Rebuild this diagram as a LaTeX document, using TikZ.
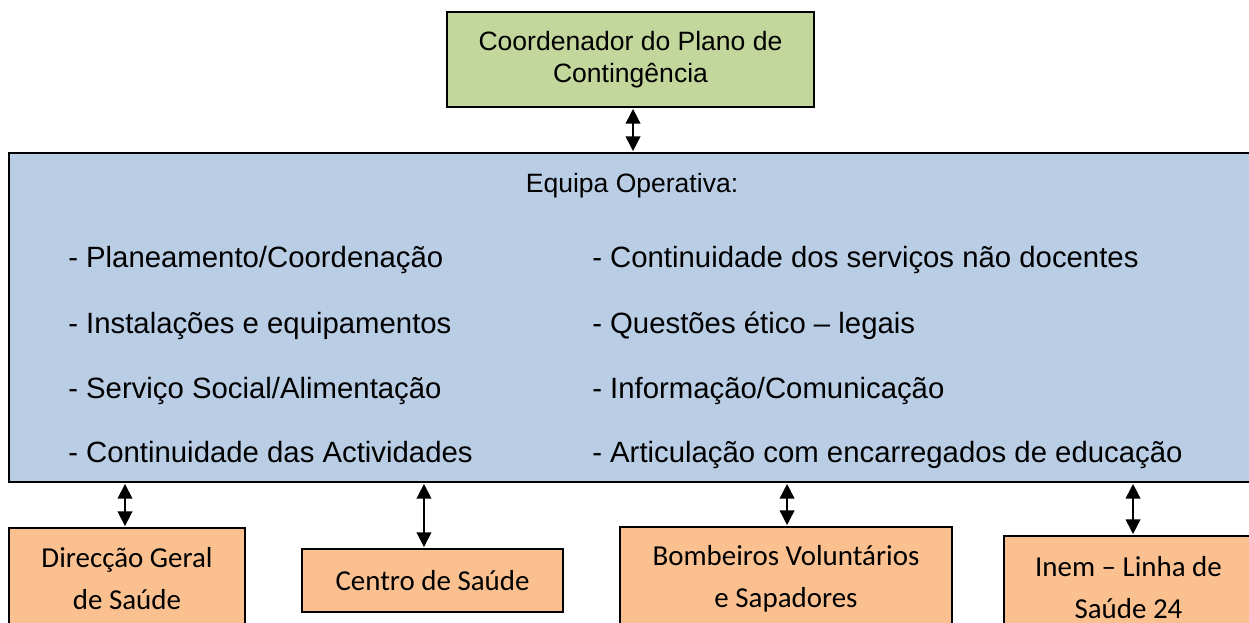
\documentclass[tikz,border=0pt]{standalone}
\usepackage{fontspec}
\setmainfont{Liberation Sans}
\newfontfamily\calib{Carlito}
\usetikzlibrary{arrows.meta}
\definecolor{boxgreen}{HTML}{C3D69B}
\definecolor{boxblue}{HTML}{B9CDE5}
\definecolor{boxorange}{HTML}{FAC090}
\tikzset{
  boxbase/.style={draw=black, line width=1.7pt, inner sep=0pt, align=center, rectangle},
  topbox/.style={boxbase, fill=boxgreen, font=\fontsize{19.9}{24}\selectfont},
  mainbox/.style={boxbase, fill=boxblue},
  extbox/.style={boxbase, fill=boxorange, font=\calib\fontsize{21.7}{31.5}\selectfont},
  itemtxt/.style={anchor=base west, inner sep=0pt, font=\fontsize{22}{26}\selectfont},
  headtxt/.style={anchor=base, inner sep=0pt, font=\fontsize{19.9}{24}\selectfont},
  biarrow/.style={line width=1.2pt, {Triangle[width=11pt,length=11pt]}-{Triangle[width=11pt,length=11pt]}, shorten <=0.6pt, shorten >=0.6pt}
}
\begin{document}
\begin{tikzpicture}[x=0.75pt,y=-0.75pt]
\useasboundingbox (0,0) rectangle (1249,622);
\clip (0,0) rectangle (1249,622);
% top
\node[topbox, minimum width=275.25pt, minimum height=71.25pt] (top) at (630.5,59.5) {Coordenador do Plano de\\Contingência};
% main
\node[mainbox, minimum width=939.75pt, minimum height=246.75pt] (main) at (635.5,317.5) {};
\node[headtxt] (head) at (632,192.5) {Equipa Operativa:};
\node[itemtxt] (l1) at (68,267) {- Planeamento/Coordenação};
\node[itemtxt] (l2) at (68,333) {- Instalações e equipamentos};
\node[itemtxt] (l3) at (68,398) {- Serviço Social/Alimentação};
\node[itemtxt] (l4) at (68,462) {- Continuidade das Actividades};
\node[itemtxt] (r1) at (592,267) {- Continuidade dos serviços não docentes};
\node[itemtxt] (r2) at (592,333) {- Questões ético – legais};
\node[itemtxt] (r3) at (592,398) {- Informação/Comunicação};
\node[itemtxt] (r4) at (592,462) {- Articulação com encarregados de educação};
% bottom
\node[extbox, minimum width=177pt, minimum height=76.5pt] (b1) at (127,579) {Direcção Geral\\de Saúde};
\node[extbox, minimum width=195.75pt, minimum height=47.25pt] (b2) at (432.5,580.5) {Centro de Saúde};
\node[extbox, minimum width=249pt, minimum height=78pt] (b3) at (786,579) {Bombeiros Voluntários\\e Sapadores};
\node[extbox, minimum width=186.75pt, minimum height=77.25pt] (b4) at (1128.5,587.5) {Inem – Linha de\\Saúde 24};
% arrows
\draw[biarrow] ([xshift=1.9pt]top.south) -- ([xshift=1.9pt]top.south |- main.north);
\draw[biarrow] ([xshift=-1.5pt]b1.north |- main.south) -- ([xshift=-1.5pt]b1.north);
\draw[biarrow] ([xshift=-6.4pt]b2.north |- main.south) -- ([xshift=-6.4pt]b2.north);
\draw[biarrow] ([xshift=0.8pt]b3.north |- main.south) -- ([xshift=0.8pt]b3.north);
\draw[biarrow] ([xshift=3.4pt]b4.north |- main.south) -- ([xshift=3.4pt]b4.north);
\end{tikzpicture}
\end{document}
